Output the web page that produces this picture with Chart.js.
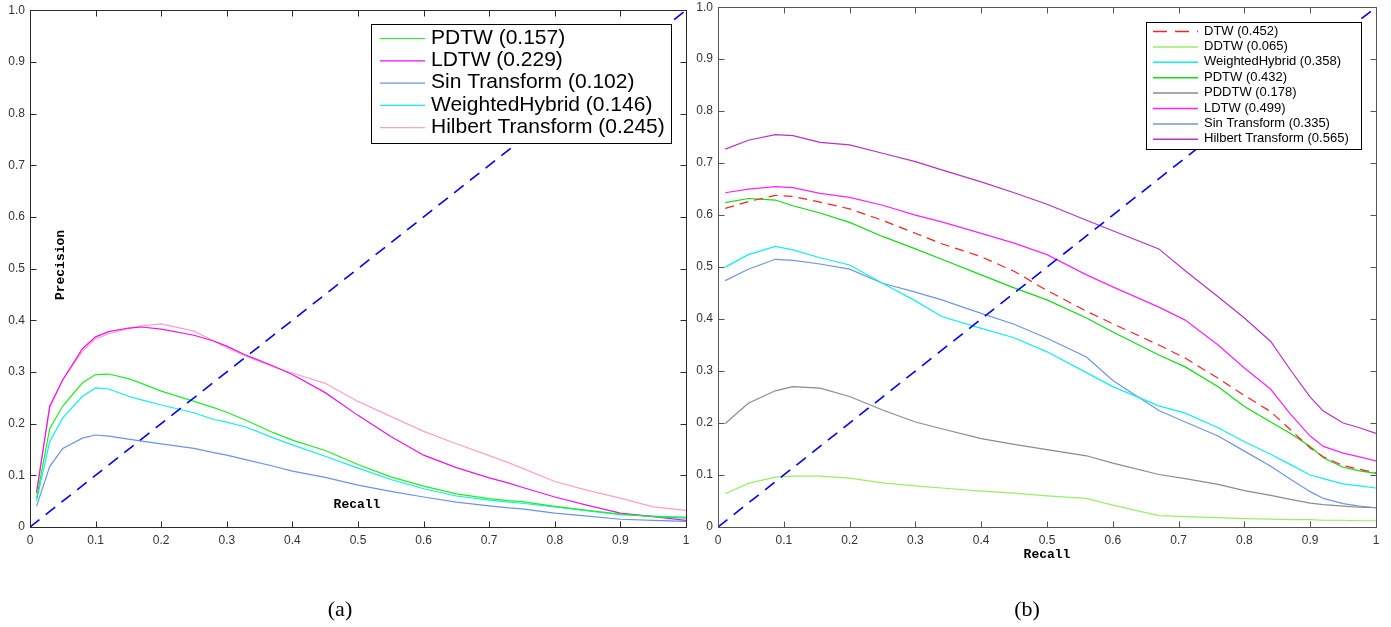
<!DOCTYPE html>
<html>
<head>
<meta charset="utf-8">
<script src="https://cdn.jsdelivr.net/npm/chart.js@4.4.1/dist/chart.umd.min.js"></script>
<style>
body { margin: 0; background: #fff; width: 1391px; height: 627px; overflow: hidden; position: relative; }
canvas { position: absolute; }
#chartA { left: 0; top: -2px; }
#chartB { left: 690px; top: -5px; }
</style>
</head>
<body>
<canvas id="chartA" width="696" height="629"></canvas>
<canvas id="chartB" width="701" height="632"></canvas>
<script>
// (a) - recall points and precision of each method
var recallA = [0.01, 0.03, 0.05, 0.08, 0.1, 0.12, 0.15, 0.17, 0.2, 0.25, 0.28, 0.3, 0.33, 0.37, 0.4, 0.45, 0.5, 0.55, 0.6, 0.65, 0.7, 0.73, 0.75, 0.8, 0.85, 0.9, 0.95, 1.0];
var pdtwA = [0.056, 0.19, 0.234, 0.279, 0.295, 0.296, 0.287, 0.278, 0.263, 0.243, 0.231, 0.222, 0.206, 0.183, 0.168, 0.148, 0.121, 0.097, 0.079, 0.064, 0.055, 0.051, 0.049, 0.04, 0.032, 0.025, 0.02, 0.017];
var ldtwA = [0.066, 0.234, 0.285, 0.345, 0.368, 0.378, 0.385, 0.387, 0.383, 0.371, 0.36, 0.35, 0.332, 0.312, 0.295, 0.26, 0.216, 0.175, 0.139, 0.115, 0.095, 0.085, 0.077, 0.058, 0.042, 0.027, 0.02, 0.013];
var sinA = [0.04, 0.117, 0.152, 0.172, 0.178, 0.176, 0.17, 0.166, 0.161, 0.152, 0.144, 0.139, 0.13, 0.118, 0.108, 0.096, 0.081, 0.069, 0.058, 0.048, 0.041, 0.037, 0.035, 0.027, 0.021, 0.015, 0.013, 0.011];
var whA = [0.05, 0.165, 0.211, 0.253, 0.269, 0.267, 0.253, 0.246, 0.236, 0.221, 0.208, 0.203, 0.193, 0.173, 0.159, 0.137, 0.114, 0.092, 0.074, 0.06, 0.052, 0.048, 0.046, 0.039, 0.031, 0.024, 0.021, 0.019];
var hilbertA = [0.07, 0.23, 0.285, 0.34, 0.364, 0.374, 0.384, 0.389, 0.393, 0.379, 0.36, 0.347, 0.33, 0.31, 0.298, 0.278, 0.243, 0.214, 0.185, 0.161, 0.138, 0.124, 0.114, 0.088, 0.071, 0.056, 0.039, 0.032];

// (b)
var recallB = [0.011, 0.046, 0.087, 0.114, 0.155, 0.2, 0.25, 0.3, 0.34, 0.4, 0.45, 0.5, 0.56, 0.6, 0.67, 0.71, 0.76, 0.8, 0.84, 0.87, 0.9, 0.92, 0.95, 0.975, 1.0];
var dtwB = [0.613, 0.626, 0.638, 0.636, 0.625, 0.612, 0.59, 0.565, 0.545, 0.52, 0.492, 0.455, 0.415, 0.391, 0.35, 0.325, 0.286, 0.253, 0.222, 0.187, 0.152, 0.135, 0.118, 0.111, 0.104];
var ddtwB = [0.064, 0.084, 0.096, 0.098, 0.098, 0.094, 0.085, 0.079, 0.075, 0.069, 0.065, 0.06, 0.055, 0.042, 0.022, 0.02, 0.018, 0.016, 0.015, 0.014, 0.014, 0.013, 0.013, 0.012, 0.012];
var whB = [0.5, 0.524, 0.54, 0.533, 0.518, 0.504, 0.469, 0.435, 0.405, 0.382, 0.364, 0.337, 0.297, 0.27, 0.233, 0.219, 0.191, 0.164, 0.14, 0.12, 0.1, 0.093, 0.083, 0.079, 0.075];
var pdtwB = [0.624, 0.632, 0.629, 0.618, 0.604, 0.586, 0.559, 0.535, 0.515, 0.485, 0.46, 0.437, 0.402, 0.375, 0.331, 0.308, 0.27, 0.232, 0.202, 0.18, 0.155, 0.133, 0.115, 0.108, 0.103];
var pddtwB = [0.199, 0.238, 0.262, 0.27, 0.267, 0.251, 0.225, 0.202, 0.189, 0.17, 0.159, 0.149, 0.137, 0.123, 0.101, 0.093, 0.082, 0.07, 0.061, 0.053, 0.046, 0.043, 0.04, 0.038, 0.037];
var ldtwB = [0.643, 0.65, 0.655, 0.653, 0.642, 0.634, 0.619, 0.6, 0.587, 0.565, 0.546, 0.524, 0.485, 0.462, 0.423, 0.398, 0.35, 0.306, 0.265, 0.217, 0.175, 0.155, 0.142, 0.135, 0.127];
var sinB = [0.474, 0.496, 0.515, 0.513, 0.506, 0.496, 0.469, 0.452, 0.437, 0.411, 0.39, 0.363, 0.327, 0.282, 0.224, 0.202, 0.175, 0.146, 0.117, 0.092, 0.068, 0.055, 0.045, 0.04, 0.037];
var hilbertB = [0.727, 0.744, 0.755, 0.753, 0.74, 0.735, 0.719, 0.703, 0.687, 0.664, 0.643, 0.621, 0.59, 0.57, 0.535, 0.493, 0.443, 0.402, 0.357, 0.302, 0.25, 0.223, 0.2, 0.191, 0.18];

var diagX = [0, 1];
var diagY = [0, 1];

function pts(xs, ys) {
    return xs.map(function (x, i) { return { x: x, y: ys[i] }; });
}

function series(label, xs, ys, color, dash) {
    return {
        label: label,
        data: pts(xs, ys),
        borderColor: color,
        borderWidth: 1.2,
        borderDash: dash || [],
        pointRadius: 0,
        tension: 0,
        fill: false
    };
}

function diagonal() {
    var d = series('', diagX, diagY, '#0000ff', [12, 8]);
    d.borderWidth = 1.6;
    d.noLegend = true;
    return d;
}

// box, inner ticks, legend with white background, extra labels
var framePlugin = {
    id: 'frame',
    afterDatasetsDraw: function (chart, args, opts) {
        var ctx = chart.ctx, a = chart.chartArea;
        var xs = chart.scales.x, ys = chart.scales.y;
        var L = Math.round(a.left) + 0.5, R = Math.round(a.right) + 0.5;
        var T = Math.round(a.top) + 0.5, B = Math.round(a.bottom) + 0.5;
        ctx.save();
        ctx.strokeStyle = opts.axisColor;
        ctx.lineWidth = 1;
        ctx.setLineDash([]);
        ctx.strokeRect(L, T, R - L, B - T);
        ctx.beginPath();
        xs.ticks.forEach(function (t) {
            var p = Math.round(xs.getPixelForValue(t.value)) + 0.5;
            if (p < L + 2 || p > R - 2) return;
            ctx.moveTo(p, B); ctx.lineTo(p, B - 6);
            ctx.moveTo(p, T); ctx.lineTo(p, T + 6);
        });
        ys.ticks.forEach(function (t) {
            var p = Math.round(ys.getPixelForValue(t.value)) + 0.5;
            if (p < T + 2 || p > B - 2) return;
            ctx.moveTo(L, p); ctx.lineTo(L + 6, p);
            ctx.moveTo(R, p); ctx.lineTo(R - 6, p);
        });
        ctx.stroke();

        var lg = opts.legend;
        ctx.fillStyle = '#fff';
        ctx.fillRect(lg.x, lg.y, lg.w, lg.h);
        ctx.strokeStyle = '#000';
        ctx.strokeRect(lg.x + 0.5, lg.y + 0.5, lg.w, lg.h);
        ctx.font = lg.font;
        ctx.textBaseline = 'middle';
        ctx.textAlign = 'left';
        var row = 0;
        chart.data.datasets.forEach(function (ds) {
            if (ds.noLegend) return;
            var y = lg.firstY + row * lg.rowH;
            ctx.strokeStyle = ds.borderColor;
            ctx.lineWidth = lg.lineW;
            ctx.setLineDash(ds.borderDash.length ? lg.dash : []);
            ctx.beginPath();
            ctx.moveTo(lg.lineX1, y + 0.5);
            ctx.lineTo(lg.lineX2, y + 0.5);
            ctx.stroke();
            ctx.fillStyle = '#000';
            ctx.fillText(ds.label, lg.textX, y);
            row++;
        });
        ctx.setLineDash([]);

        (opts.texts || []).forEach(function (t) {
            ctx.save();
            ctx.font = t.font;
            ctx.fillStyle = '#000';
            ctx.textAlign = 'center';
            ctx.textBaseline = 'middle';
            ctx.translate(t.x, t.y);
            if (t.rotate) ctx.rotate(t.rotate);
            ctx.fillText(t.text, 0, 0);
            ctx.restore();
        });
        ctx.restore();
    }
};

function axes(yWidth) {
    var tickFont = { family: 'Liberation Sans', size: 12 };
    return {
        x: {
            type: 'linear', min: 0, max: 1,
            grid: { display: false, drawTicks: false },
            border: { display: false },
            ticks: {
                stepSize: 0.1, padding: 6, color: '#333', font: tickFont, maxRotation: 0,
                callback: function (v) { return v === 0 ? '0' : (v === 1 ? '1' : v.toFixed(1)); }
            },
            afterFit: function (s) { s.height = 100; }
        },
        y: {
            type: 'linear', min: 0, max: 1,
            grid: { display: false, drawTicks: false },
            border: { display: false },
            ticks: {
                stepSize: 0.1, padding: 5, color: '#333', font: tickFont,
                callback: function (v) { return v === 0 ? '0' : (v === 1 ? '1.0' : v.toFixed(1)); }
            },
            afterFit: function (s) { s.width = yWidth; }
        }
    };
}

// canvas A sits 2px above the page, canvas B 5px above
var ctxA = document.getElementById('chartA').getContext('2d');
var chartA = new Chart(ctxA, {
    type: 'line',
    data: {
        datasets: [
            diagonal(),
            series('PDTW (0.157)', recallA, pdtwA, '#22ee22'),
            series('LDTW (0.229)', recallA, ldtwA, '#ee11ee'),
            series('Sin Transform (0.102)', recallA, sinA, '#6a94e8'),
            series('WeightedHybrid (0.146)', recallA, whA, '#11eeee'),
            series('Hilbert Transform (0.245)', recallA, hilbertA, '#ffa0c8')
        ]
    },
    options: {
        responsive: false,
        animation: false,
        layout: { padding: { left: 0, right: 10, top: 10, bottom: 0 } },
        scales: axes(30),
        plugins: {
            legend: { display: false },
            tooltip: { enabled: false },
            frame: {
                axisColor: '#2a2a2a',
                legend: {
                    x: 371, y: 26, w: 300, h: 119, font: '21px "Liberation Sans"',
                    firstY: 40, rowH: 22.3, lineX1: 380, lineX2: 425, textX: 431, lineW: 1.2, dash: [12, 8]
                },
                texts: [
                    { text: 'Recall', x: 357, y: 507, font: 'bold 13px "Liberation Mono"' },
                    { text: 'Precision', x: 61, y: 267, font: 'bold 13px "Liberation Mono"', rotate: -Math.PI / 2 },
                    { text: '(a)', x: 340, y: 612, font: '22px "Liberation Serif"' }
                ]
            }
        }
    },
    plugins: [framePlugin]
});

var ctxB = document.getElementById('chartB').getContext('2d');
var chartB = new Chart(ctxB, {
    type: 'line',
    data: {
        datasets: [
            diagonal(),
            series('DTW (0.452)', recallB, dtwB, '#ff2020', [9, 6]),
            series('DDTW (0.065)', recallB, ddtwB, '#99ee66'),
            series('WeightedHybrid (0.358)', recallB, whB, '#11eeee'),
            series('PDTW (0.432)', recallB, pdtwB, '#11dd11'),
            series('PDDTW (0.178)', recallB, pddtwB, '#8c8c8c'),
            series('LDTW (0.499)', recallB, ldtwB, '#ff22ff'),
            series('Sin Transform (0.335)', recallB, sinB, '#7096e0'),
            series('Hilbert Transform (0.565)', recallB, hilbertB, '#b832c8')
        ]
    },
    options: {
        responsive: false,
        animation: false,
        layout: { padding: { left: 0, right: 15, top: 7, bottom: 0 } },
        scales: axes(28),
        plugins: {
            legend: { display: false },
            tooltip: { enabled: false },
            frame: {
                axisColor: '#555',
                legend: {
                    x: 456, y: 27, w: 215, h: 127, font: '13px "Liberation Sans"',
                    firstY: 36, rowH: 15.4, lineX1: 463, lineX2: 508, textX: 514, lineW: 1.5, dash: [14, 8]
                },
                texts: [
                    { text: 'Recall', x: 357, y: 560, font: 'bold 13px "Liberation Mono"' },
                    { text: '(b)', x: 337, y: 615, font: '22px "Liberation Serif"' }
                ]
            }
        }
    },
    plugins: [framePlugin]
});
</script>
</body>
</html>
